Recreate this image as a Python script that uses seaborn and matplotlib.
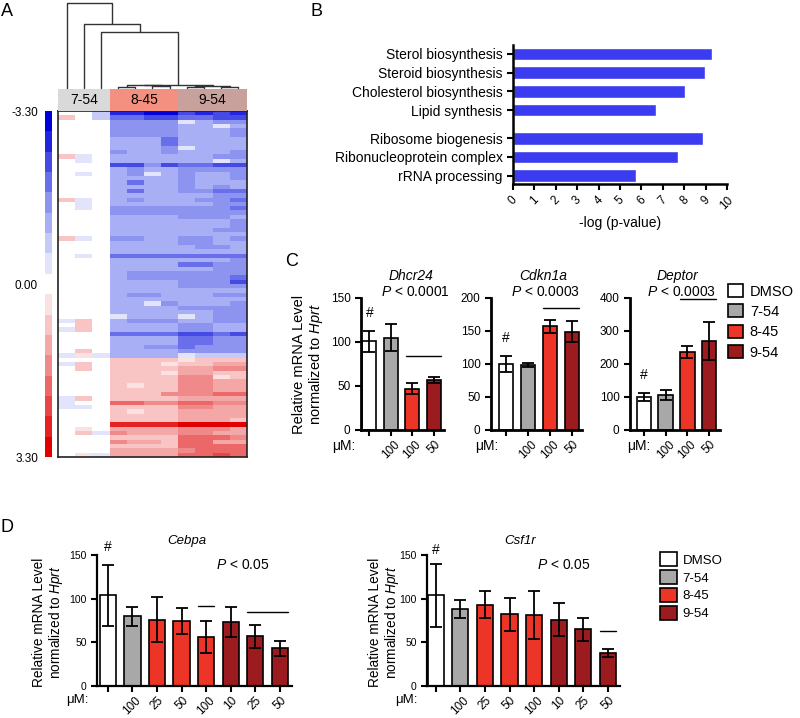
import numpy as np
import matplotlib
matplotlib.use("Agg")
import matplotlib.pyplot as plt
import matplotlib.transforms as mtransforms
import seaborn as sns
from matplotlib.colors import LinearSegmentedColormap, ListedColormap
from matplotlib.patches import Patch

# ========= DATA =========
# A: heatmap, z-score levels in steps of heat_limit / 8 (rows x 11 samples)
heat_groups = ["7-54", "8-45", "9-54"]
heat_group_sizes = [3, 4, 4]
heat_group_colors = ["#d9d9d9", "#f4907f", "#c9a19c"]
heat_limit = 3.30
heat_levels = [
    [0, 0, -2, -7, -7, -8, -8, -6, -7, -6, -7],
    [2, 0, -2, -5, -5, -6, -6, -5, -5, -6, -6],
    [0, 0, 0, -4, -4, -4, -4, -1, -3, -4, -4],
    [0, 0, 0, -4, -4, -4, -4, -3, -3, -1, -3],
    [0, 0, 0, -4, -4, -4, -4, -3, -3, -3, -4],
    [0, 0, 0, -4, -4, -4, -4, -3, -3, -3, -4],
    [0, 0, 0, -3, -3, -3, -5, -3, -3, -3, -3],
    [0, 0, 0, -3, -3, -3, -5, -3, -3, -3, -3],
    [0, 0, 0, -3, -3, -3, -4, -1, -3, -3, -3],
    [0, 0, 0, -4, -3, -3, -4, -3, -3, -3, -4],
    [2, -1, 0, -3, -3, -3, -3, -3, -3, -4, -4],
    [0, -1, 0, -3, -3, -3, -3, -3, -3, -1, -3],
    [0, 0, 0, -6, -6, -4, -6, -5, -5, -6, -6],
    [0, 0, 0, -3, -4, -3, -3, -4, -4, -4, -4],
    [0, -1, 0, -3, -4, -1, -3, -4, -3, -3, -4],
    [0, 0, 0, -3, -3, -3, -3, -4, -3, -3, -4],
    [0, 0, 0, -3, -5, -3, -3, -4, -3, -3, -3],
    [0, 0, 0, -3, -3, -3, -3, -4, -3, -4, -3],
    [0, 0, 0, -3, -5, -3, -3, -4, -4, -5, -5],
    [0, 0, 0, -3, -3, -3, -3, -3, -3, -4, -4],
    [2, -1, 0, -3, -4, -3, -3, -3, -4, -4, -5],
    [0, -1, 0, -3, -3, -3, -3, -3, -3, -4, -4],
    [0, -1, 0, -4, -4, -4, -4, -4, -4, -4, -5],
    [0, 0, 0, -4, -4, -4, -4, -4, -4, -4, -4],
    [0, 0, 0, -3, -3, -3, -3, -4, -4, -4, -3],
    [0, 0, 0, -3, -3, -3, -3, -3, -3, -3, -4],
    [0, 0, 0, -3, -3, -3, -3, -3, -3, -3, -4],
    [0, 0, 0, -3, -3, -3, -3, -3, -3, -4, -4],
    [0, 0, 0, -3, -3, -3, -3, -3, -3, -3, -3],
    [2, -1, 0, -4, -4, -3, -3, -4, -4, -3, -4],
    [0, 0, 0, -3, -3, -3, -3, -4, -4, -3, -3],
    [0, 0, 0, -3, -3, -3, -3, -3, -4, -4, -3],
    [0, 0, 0, -3, -3, -3, -3, -3, -3, -3, -3],
    [0, -1, 0, -5, -5, -5, -5, -5, -5, -5, -5],
    [0, 0, 0, -3, -3, -3, -3, -3, -3, -3, -4],
    [0, 0, 0, -3, -3, -3, -3, -5, -5, -4, -4],
    [0, 0, 0, -3, -3, -3, -3, -3, -3, -4, -4],
    [0, 0, 0, -3, -4, -4, -4, -4, -4, -4, -4],
    [0, 0, 0, -3, -4, -4, -4, -4, -4, -4, -5],
    [0, 0, 0, -3, -3, -3, -3, -4, -4, -4, -6],
    [0, 0, 0, -3, -3, -3, -3, -4, -4, -4, -4],
    [0, 0, 0, -3, -3, -3, -3, -3, -3, -3, -3],
    [0, 0, 0, -3, -4, -4, -3, -3, -3, -4, -4],
    [0, 0, 0, -3, -3, -3, -3, -3, -3, -3, -3],
    [0, 0, 0, -3, -3, -1, -4, -3, -3, -3, -4],
    [0, 0, 0, -3, -3, -3, -3, -4, -4, -4, -4],
    [0, 0, 0, -3, -3, -3, -3, -3, -3, -4, -4],
    [0, 0, 0, -1, -3, -3, -3, -1, -3, -4, -4],
    [-1, 2, 0, -3, -4, -4, -4, -3, -3, -4, -4],
    [0, 2, 0, -3, -3, -3, -3, -4, -4, -3, -3],
    [-1, 2, 0, -3, -3, -3, -3, -4, -4, -3, -3],
    [0, 0, 0, -5, -5, -5, -5, -6, -6, -5, -6],
    [0, 0, 0, -3, -3, -3, -3, -5, -5, -4, -4],
    [0, 0, 0, -3, -3, -3, -3, -5, -5, -4, -4],
    [0, 0, 0, -3, -3, -4, -4, -5, -4, -4, -4],
    [0, 2, 0, -3, -3, -3, -3, -4, -4, -4, -4],
    [-1, 1, -1, -3, -3, -3, -3, -1, -2, -2, -2],
    [0, 0, 0, 2, 2, 2, 2, 1, 2, 2, 2],
    [-1, 2, 0, 2, 2, 2, 1, 2, 2, 3, 3],
    [0, 2, 0, 2, 2, 2, 2, 3, 3, 4, 4],
    [0, 0, 0, 2, 2, 2, 1, 3, 3, 2, 2],
    [0, 0, 0, 2, 2, 2, 2, 4, 4, 1, 2],
    [0, 0, 0, 2, 2, 2, 2, 4, 4, 3, 3],
    [0, 0, 0, 2, 1, 2, 2, 4, 4, 3, 3],
    [0, 0, 0, 2, 2, 2, 2, 4, 4, 3, 3],
    [0, 0, 0, 2, 2, 2, 4, 4, 4, 5, 5],
    [-1, 2, 0, 2, 2, 2, 2, 3, 3, 3, 3],
    [-1, 0, 0, 5, 5, 4, 4, 5, 5, 4, 4],
    [-1, -1, 0, 2, 2, 2, 2, 4, 4, 3, 3],
    [0, 0, 0, 2, 1, 2, 2, 3, 3, 3, 3],
    [0, 0, 0, 2, 2, 2, 2, 3, 3, 3, 3],
    [0, 0, 0, 2, 2, 2, 2, 3, 3, 3, 2],
    [0, 0, 0, 7, 7, 7, 7, 8, 8, 8, 8],
    [0, 1, 0, 3, 3, 3, 3, 4, 4, 4, 3],
    [0, 2, -1, 4, 3, 3, 3, 4, 4, 3, 3],
    [0, 0, 0, 2, 2, 2, 2, 5, 5, 5, 4],
    [0, 0, 0, 4, 3, 3, 2, 5, 5, 3, 3],
    [0, 0, 0, 2, 2, 2, 2, 5, 5, 5, 5],
    [0, 0, 0, 3, 3, 3, 3, 4, 5, 5, 5],
    [0, 1, -1, 3, 3, 3, 3, 5, 5, 6, 5],
]
# sample clustering: (node a, node b, height); leaves are 0..10
dendro_merges = [
    (3, 4, 0.012), (5, 6, 0.018), (7, 8, 0.010), (9, 10, 0.015),
    (11, 12, 0.030), (13, 14, 0.025), (15, 16, 0.040),
    (2, 17, 0.66), (1, 18, 0.75), (0, 19, 1.0),
]

# B: enriched terms
go_terms = ["Sterol biosynthesis", "Steroid biosynthesis", "Cholesterol biosynthesis",
            "Lipid synthesis", "Ribosome biogenesis", "Ribonucleoprotein complex",
            "rRNA processing"]
go_cluster = [0, 0, 0, 0, 1, 1, 1]
go_logp = [9.3, 8.95, 8.05, 6.7, 8.9, 7.7, 5.75]

# C / D: qPCR
treat_groups = ["DMSO", "7-54", "8-45", "9-54"]
treat_colors = ["#ffffff", "#a8a8a8", "#ec3526", "#9c1b1f"]

c_groups = ["DMSO", "7-54", "8-45", "9-54"]
c_doses = ["", "100", "100", "50"]
c_genes = ["Dhcr24", "Cdkn1a", "Deptor"]
c_pvals = ["0.0001", "0.0003", "0.0003"]
dhcr24_mean = [101, 105, 47, 57]
dhcr24_sem = [12, 15.5, 6.3, 3.4]
cdkn1a_mean = [100, 98.5, 157, 149]
cdkn1a_sem = [12, 3, 9.5, 16]
deptor_mean = [100, 107, 236, 270]
deptor_sem = [12.5, 15.5, 19, 58]
c_sig = [(2, 3, 84), (2, 3, 185), (2, 3, 398)]
c_hash = [133, 140, 168]
c_ymax = [150, 200, 400]
c_ystep = [50, 50, 100]

d_groups = ["DMSO", "7-54", "8-45", "8-45", "8-45", "9-54", "9-54", "9-54"]
d_doses = ["", "100", "25", "50", "100", "10", "25", "50"]
d_genes = ["Cebpa", "Csf1r"]
d_pvals = ["0.05", "0.05"]
cebpa_mean = [104, 80, 76, 74, 56, 73, 57, 43]
cebpa_sem = [35, 11, 26, 15, 18, 17, 13, 8.5]
csf1r_mean = [104, 88, 93, 82, 81, 76, 65, 38]
csf1r_sem = [36, 10.5, 15.5, 18.5, 27.5, 19, 13, 4.5]
d_sig = [[(4, 4, 91.5), (6, 7, 85)], [(7, 7, 62.7)]]
d_hash = [159, 156]

# ========= STYLE =========
sns.set_theme(style="ticks", rc={
    "axes.edgecolor": "black", "xtick.color": "black", "ytick.color": "black",
    "text.color": "black", "axes.labelcolor": "black",
})
plt.rcParams["font.family"] = ["Liberation Sans", "DejaVu Sans"]
plt.rcParams["mathtext.fontset"] = "custom"
plt.rcParams["mathtext.rm"] = "Liberation Sans"
plt.rcParams["mathtext.it"] = "Liberation Sans:italic"

W, H = 800, 718
fig = plt.figure(figsize=(W / 100, H / 100), dpi=100)


def px_axes(x0, y0, x1, y1):
    return fig.add_axes([x0 / W, 1 - y1 / H, (x1 - x0) / W, (y1 - y0) / H])


palette = dict(zip(treat_groups, treat_colors))

# ========= A: HEATMAP =========
heat = np.array(heat_levels) * heat_limit / 8
n_cols = heat.shape[1]
cmap = LinearSegmentedColormap.from_list(
    "bwr_steps",
    [(0.0, "#0000d8"), (0.25, "#8c94f0"), (0.5, "#ffffff"), (0.75, "#f08a8a"), (1.0, "#e00000")],
    N=17)

ax_hm = px_axes(58, 111, 247, 457)
ax_cb = px_axes(45, 111, 52, 457)
sns.heatmap(heat, ax=ax_hm, cmap=cmap, vmin=-heat_limit, vmax=heat_limit,
            cbar_ax=ax_cb, xticklabels=False, yticklabels=False)
for s in ax_hm.spines.values():
    s.set_visible(True)
    s.set_linewidth(1.2)
    s.set_color("#222222")
cbar = ax_hm.collections[0].colorbar
cbar.outline.set_visible(False)
cbar.set_ticks([-heat_limit, 0, heat_limit])
cbar.set_ticklabels([f"{v:.2f}" for v in (-heat_limit, 0.0, heat_limit)])
ax_cb.invert_yaxis()
ax_cb.yaxis.set_ticks_position("left")
ax_cb.tick_params(length=0, labelsize=8.5, pad=5)

# group header
ax_hdr = px_axes(58, 89, 247, 111)
group_idx = np.repeat(np.arange(len(heat_groups)), heat_group_sizes)[None, :]
sns.heatmap(group_idx, ax=ax_hdr, cmap=ListedColormap(heat_group_colors), cbar=False,
            xticklabels=False, yticklabels=False, vmin=-0.5, vmax=len(heat_groups) - 0.5)
edges = np.concatenate([[0], np.cumsum(heat_group_sizes)])
for name, a, b in zip(heat_groups, edges[:-1], edges[1:]):
    ax_hdr.text((a + b) / 2, 0.5, name, ha="center", va="center", fontsize=10)

# dendrogram
ax_dn = px_axes(58, 3, 247, 88)
node_x = {i: i + 0.5 for i in range(n_cols)}
node_h = {i: 0.0 for i in range(n_cols)}
for k, (a, b, h) in enumerate(dendro_merges):
    xa, xb = node_x[a], node_x[b]
    ax_dn.plot([xa, xa, xb, xb], [node_h[a], h, h, node_h[b]], color="#333333",
               lw=1.0, clip_on=False)
    node_x[n_cols + k] = (xa + xb) / 2
    node_h[n_cols + k] = h
ax_dn.set_xlim(0, n_cols)
ax_dn.set_ylim(0, 1)
ax_dn.axis("off")

# ========= B: GO BARS =========
ax_b = px_axes(513, 45, 727, 184)
go_pos = np.arange(len(go_terms)) + 0.5 * np.array(go_cluster)
sns.barplot(x=go_logp, y=go_pos, orient="y", native_scale=True, color="#3b3bef",
            saturation=1, width=0.68, ax=ax_b)
ax_b.set_ylim(go_pos[-1] + 0.45, -0.48)
ax_b.set_yticks(go_pos)
ax_b.set_yticklabels(go_terms, fontsize=10)
ax_b.set_xlim(0, 10)
ax_b.set_xticks(range(11))
ax_b.set_xticklabels([str(i) for i in range(11)], rotation=45, fontsize=8.5)
ax_b.set_xlabel("-log (p-value)", fontsize=10, labelpad=3)
ax_b.set_ylabel("")
ax_b.tick_params(length=4, width=1.5)
sns.despine(ax=ax_b)
for s in ("left", "bottom"):
    ax_b.spines[s].set_linewidth(1.8)


# ========= BAR PANEL HELPER =========
def bar_panel(ax, groups, doses, means, sems, sig, hash_level, ymax, ystep, xlim,
              tick_fs, spine_w):
    cats = [f"{g} {d}" for g, d in zip(groups, doses)]
    sns.barplot(x=cats, y=means, hue=groups, palette=palette, dodge=False, width=0.66,
                edgecolor="black", linewidth=1.2, saturation=1, errorbar=None,
                legend=False, ax=ax)
    ax.errorbar(np.arange(len(means)), means, yerr=sems, fmt="none", ecolor="black",
                elinewidth=1.3, capsize=4, capthick=1.3, zorder=5)
    for a, b, lvl in sig:
        ax.plot([a - 0.32, b + 0.32], [lvl, lvl], color="black", lw=1.0)
    ax.text(0, hash_level, "#", ha="center", va="center", fontsize=10, clip_on=False)
    ax.set_ylim(0, ymax)
    ax.set_yticks(np.arange(0, ymax + 1, ystep))
    ax.set_xlim(*xlim)
    ax.set_xticks(range(len(means)))
    ax.set_xticklabels(doses, rotation=45, fontsize=8.5)
    ax.tick_params(axis="y", labelsize=tick_fs, length=4, width=1.5)
    ax.tick_params(axis="x", length=4, width=1.5, pad=2)
    ax.set_xlabel("")
    ax.set_ylabel("")
    sns.despine(ax=ax)
    for s in ("left", "bottom"):
        ax.spines[s].set_linewidth(spine_w)


ylab = "Relative mRNA Level\nnormalized to $Hprt$"

# ========= C =========
c_boxes = [(361, 298, 444, 430), (491, 298, 582, 430), (630, 298, 720, 430)]
c_xlims = [(-0.39, 3.47), (-0.7, 3.47), (-0.63, 3.5)]
c_gene_x = [0.6, 0.575, 0.53]
c_p_x = [0.65, 0.6, 0.57]
c_mu_x = [-0.67, -0.37, 0.29]
c_means = [dhcr24_mean, cdkn1a_mean, deptor_mean]
c_sems = [dhcr24_sem, cdkn1a_sem, deptor_sem]
for i, gene in enumerate(c_genes):
    ax = px_axes(*c_boxes[i])
    bar_panel(ax, c_groups, c_doses, c_means[i], c_sems[i], [c_sig[i]], c_hash[i],
              c_ymax[i], c_ystep[i], c_xlims[i], 8.5, 2.0)
    ax.text(c_gene_x[i], 1.17, gene, transform=ax.transAxes, ha="center", va="center",
            fontsize=10, style="italic")
    ax.text(c_p_x[i], 1.045, f"$P$ < {c_pvals[i]}", transform=ax.transAxes,
            ha="center", va="center", fontsize=10)
    trans = mtransforms.blended_transform_factory(ax.transData, ax.transAxes)
    ax.text(c_mu_x[i], -0.12, "\u03bcM:", transform=trans, ha="right", va="center",
            fontsize=10)
    if i == 0:
        ax.set_ylabel(ylab, fontsize=10.5, linespacing=1.1)
        ax.yaxis.set_label_coords(-0.43, 0.5)

fig.legend([Patch(facecolor=c, edgecolor="black", linewidth=1.2) for c in treat_colors],
           treat_groups, loc="upper left", bbox_to_anchor=(728 / W, 1 - 284 / H),
           frameon=False, fontsize=10.5, handlelength=1.0, handleheight=1.0,
           labelspacing=0.4, handletextpad=0.5, borderaxespad=0, borderpad=0)

# ========= D =========
d_boxes = [(97, 555, 292, 686), (427, 555, 620, 686)]
d_xlims = [(-0.44, 7.49), (-0.36, 7.5)]
d_gene_x = [0.46, 0.48]
d_p_x = [0.75, 0.71]
d_mu_x = [-0.79, -0.75]
d_ylab_x = [-0.165, -0.135]
d_means = [cebpa_mean, csf1r_mean]
d_sems = [cebpa_sem, csf1r_sem]
for i, gene in enumerate(d_genes):
    ax = px_axes(*d_boxes[i])
    bar_panel(ax, d_groups, d_doses, d_means[i], d_sems[i], d_sig[i], d_hash[i],
              150, 50, d_xlims[i], 7.5, 1.6)
    ax.text(d_gene_x[i], 1.105, gene, transform=ax.transAxes, ha="center", va="center",
            fontsize=9.5, style="italic")
    ax.text(d_p_x[i], 0.92, f"$P$ < {d_pvals[i]}", transform=ax.transAxes,
            ha="center", va="center", fontsize=10)
    trans = mtransforms.blended_transform_factory(ax.transData, ax.transAxes)
    ax.text(d_mu_x[i], -0.11, "\u03bcM:", transform=trans, ha="right", va="center",
            fontsize=9.5)
    ax.set_ylabel(ylab, fontsize=9.8, linespacing=1.1)
    ax.yaxis.set_label_coords(d_ylab_x[i], 0.485)

fig.legend([Patch(facecolor=c, edgecolor="black", linewidth=1.2) for c in treat_colors],
           treat_groups, loc="upper left", bbox_to_anchor=(660 / W, 1 - 552 / H),
           frameon=False, fontsize=9.5, handlelength=1.3, handleheight=1.3,
           labelspacing=0.25, handletextpad=0.4, borderaxespad=0, borderpad=0)

# ========= PANEL LETTERS =========
for letter, (px, py) in zip("ABCD", [(7, 12), (316, 11), (292, 261), (7, 528)]):
    fig.text(px / W, 1 - py / H, letter, ha="center", va="center", fontsize=13)

fig.savefig("out.png", dpi=100)
